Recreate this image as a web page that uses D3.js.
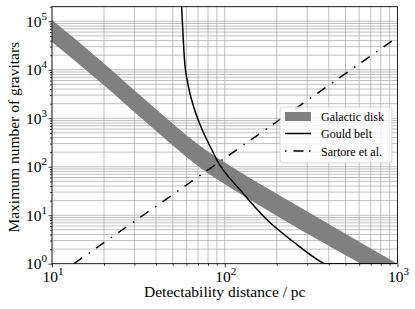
<!DOCTYPE html>
<html>
<head>
<meta charset="utf-8">
<script src="https://cdn.jsdelivr.net/npm/d3@7"></script>
<style>
  body { margin: 0; background: #fff; }
  svg { display: block; }
  text { font-family: "Liberation Serif", "Times New Roman", serif; }
</style>
</head>
<body>
<div id="chart"></div>
<script>
// data (distance in pc, number of gravitars)
const diskDist  = [10, 19, 37, 72.1, 115, 183.6, 409, 1000];
const diskUpper = [1.06e5, 1.58e4, 1963, 267, 89.7, 33.1, 6.28, 1.0];
const diskLower = [3.76e4, 5620, 697, 94.8, 31.8, 11.7, 2.23, 0.39];

const gouldDist = [56.0, 58.5, 61.4, 65.6, 72.1, 84.3, 90.1, 123, 178.7, 246.2, 366, 378, 1000];
const gouldN    = [3e5, 15850, 4840, 1870, 724, 221, 137.4, 33.1, 7.59, 2.94, 1.06, 1, 1];

const sartoreDist = [13.4, 1000];
const sartoreN    = [1, 4.7e4];

const xMajor = [10, 100, 1000];
const yMajor = [1, 10, 100, 1e3, 1e4, 1e5];
const xLabels = ["1", "2", "3"];
const yLabels = ["0", "1", "2", "3", "4", "5"];

const legendNames = ["Galactic disk", "Gould belt", "Sartore et al."];

const FONT = '"Liberation Serif", "Times New Roman", serif';
const W = 415, H = 309;
const margin = {top: 6.7, right: 17.5, bottom: 45.3, left: 52};
const width = W - margin.left - margin.right;
const height = H - margin.top - margin.bottom;

const svg = d3.select("#chart").append("svg")
  .attr("width", W).attr("height", H);
const g = svg.append("g")
  .attr("transform", "translate(" + margin.left + "," + margin.top + ")");

const x = d3.scaleLog().domain([10, 1000]).range([0, width]);
const y = d3.scaleLog().domain([1, 2e5]).range([height, 0]);

// minor values 2..9 per decade
function minors(lo, hi) {
  const out = [];
  for (let e = lo; e < hi; e++)
    for (let k = 2; k <= 9; k++) out.push(k * Math.pow(10, e));
  return out;
}
const xMinor = minors(1, 3);
const yMinor = minors(0, 6).filter(v => v <= 2e5);

// grid
const grid = g.append("g").attr("stroke", "#b0b0b0").attr("stroke-width", 0.8);
grid.selectAll(".gx").data(xMajor.concat(xMinor)).enter().append("line")
  .attr("x1", d => x(d)).attr("x2", d => x(d))
  .attr("y1", 0).attr("y2", height);
grid.selectAll(".gy").data(yMajor.concat(yMinor)).enter().append("line")
  .attr("y1", d => y(d)).attr("y2", d => y(d))
  .attr("x1", 0).attr("x2", width);

svg.append("clipPath").attr("id", "clip")
  .append("rect").attr("width", width).attr("height", height);
const plot = g.append("g").attr("clip-path", "url(#clip)");

// Galactic disk band
const band = diskDist.map((d, i) => ({d: d, lo: diskLower[i], hi: diskUpper[i]}));
plot.append("path")
  .datum(band)
  .attr("fill", "#808080")
  .attr("d", d3.area()
    .x(d => x(d.d)).y0(d => y(d.lo)).y1(d => y(d.hi))
    .curve(d3.curveMonotoneX));

// Gould belt
const line = d3.line().x(d => x(d[0])).y(d => y(d[1])).curve(d3.curveMonotoneX);
plot.append("path")
  .datum(gouldDist.map((d, i) => [d, gouldN[i]]))
  .attr("fill", "none").attr("stroke", "#000").attr("stroke-width", 1.5)
  .attr("d", line);

// Sartore et al.
plot.append("path")
  .datum(sartoreDist.map((d, i) => [d, sartoreN[i]]))
  .attr("fill", "none").attr("stroke", "#000").attr("stroke-width", 1.5)
  .attr("stroke-dasharray", "10,8,1.5,7.5")
  .attr("d", d3.line().x(d => x(d[0])).y(d => y(d[1])));

// axes
function tickAxis(axis, vals, size) {
  return axis.tickValues(vals).tickSize(size).tickFormat("");
}
const xAx = g.append("g").attr("transform", "translate(0," + height + ")");
xAx.call(tickAxis(d3.axisBottom(x), xMajor, 3.5));
xAx.append("g").call(tickAxis(d3.axisBottom(x), xMinor, 2));
const yAx = g.append("g");
yAx.call(tickAxis(d3.axisLeft(y), yMajor, 3.5));
yAx.append("g").call(tickAxis(d3.axisLeft(y), yMinor, 2));
g.selectAll(".domain").remove();
g.selectAll(".tick line").attr("stroke", "#000").attr("stroke-width", 0.8);

// frame
g.append("rect").attr("width", width).attr("height", height)
  .attr("fill", "none").attr("stroke", "#000").attr("stroke-width", 0.8);

// tick labels
xMajor.forEach((v, i) => {
  const t = g.append("text").attr("x", x(v) + 1).attr("y", height + 18)
    .attr("text-anchor", "middle").attr("font-family", FONT).attr("font-size", 15.5);
  t.append("tspan").text("10");
  t.append("tspan").attr("font-size", 11).attr("dy", -7).text(xLabels[i]);
});
yMajor.forEach((v, i) => {
  const t = g.append("text").attr("x", -5).attr("y", y(v) + 5.5)
    .attr("text-anchor", "end").attr("font-family", FONT).attr("font-size", 15.5);
  t.append("tspan").text("10");
  t.append("tspan").attr("font-size", 11).attr("dy", -7).text(yLabels[i]);
});

// axis labels
svg.append("text")
  .attr("x", margin.left + width / 2).attr("y", 297)
  .attr("text-anchor", "middle").attr("font-family", FONT).attr("font-size", 15.5)
  .text("Detectability distance / pc");
svg.append("text")
  .attr("transform", "translate(19," + (margin.top + height / 2 + 2) + ") rotate(-90)")
  .attr("text-anchor", "middle").attr("font-family", FONT).attr("font-size", 15.5)
  .text("Maximum number of gravitars");

// legend
const lg = svg.append("g").attr("transform", "translate(280,107)");
lg.append("rect").attr("width", 112).attr("height", 56).attr("rx", 3)
  .attr("fill", "#fff").attr("fill-opacity", 0.8)
  .attr("stroke", "#cccccc").attr("stroke-width", 0.8);
lg.append("rect").attr("x", 5).attr("y", 5).attr("width", 26).attr("height", 9)
  .attr("fill", "#808080");
lg.append("line").attr("x1", 5).attr("x2", 31).attr("y1", 26.5).attr("y2", 26.5)
  .attr("stroke", "#000").attr("stroke-width", 1.5);
lg.append("line").attr("x1", 5).attr("x2", 31).attr("y1", 44).attr("y2", 44)
  .attr("stroke", "#000").attr("stroke-width", 1.5)
  .attr("stroke-dasharray", "1.5,7,10,5.5,1.5,20");
legendNames.forEach((n, i) => {
  lg.append("text").attr("x", 41).attr("y", 13.5 + i * 17.5)
    .attr("font-family", FONT).attr("font-size", 12).text(n);
});
</script>
</body>
</html>
